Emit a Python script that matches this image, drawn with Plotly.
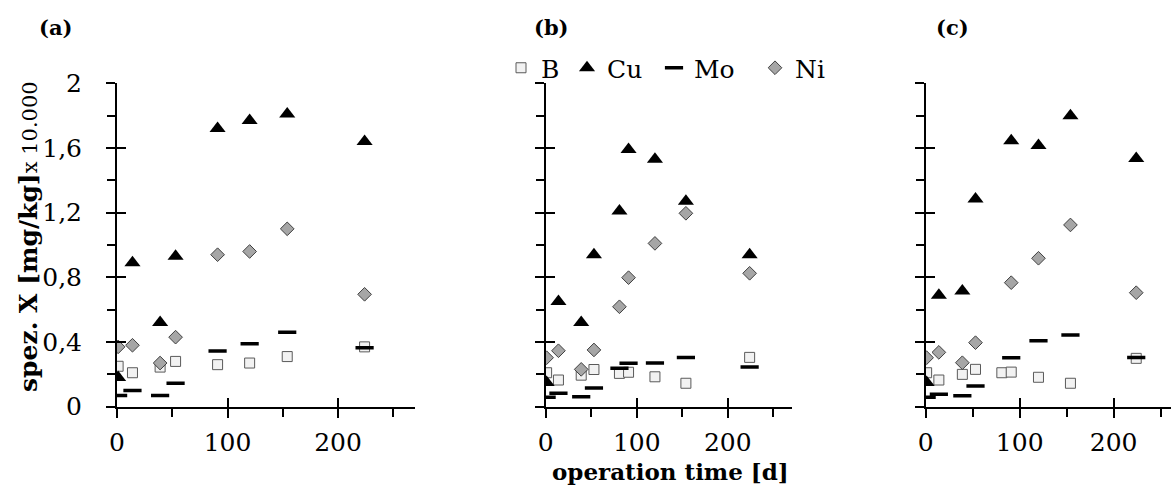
import plotly.graph_objects as go

# ---------------- data ----------------
elements = ["B", "Cu", "Mo", "Ni"]

days_a = [1, 14, 39, 53, 91, 120, 154, 224]
B_a = [0.25, 0.21, 0.245, 0.28, 0.26, 0.27, 0.31, 0.37]
Cu_a = [0.18, 0.89, 0.52, 0.93, 1.72, 1.77, 1.81, 1.64]
Mo_a = [0.07, 0.10, 0.07, 0.145, 0.345, 0.39, 0.46, 0.365]
Ni_a = [0.37, 0.38, 0.27, 0.43, 0.94, 0.96, 1.10, 0.695]

days_b = [1, 14, 39, 53, 81, 91, 120, 154, 224]
B_b = [0.21, 0.165, 0.195, 0.23, 0.206, 0.213, 0.185, 0.145, 0.305]
Cu_b = [0.15, 0.65, 0.52, 0.94, 1.21, 1.59, 1.53, 1.27, 0.94]
Mo_b = [0.058, 0.083, 0.062, 0.115, 0.238, 0.268, 0.27, 0.305, 0.246]
Ni_b = [0.303, 0.346, 0.231, 0.351, 0.618, 0.798, 1.01, 1.196, 0.825]

days_c = [1, 14, 39, 53, 81, 91, 120, 154, 224]
B_c = [0.21, 0.165, 0.20, 0.231, 0.21, 0.214, 0.182, 0.145, 0.299]
Cu_c = [0.15, 0.69, 0.715, 1.285, None, 1.645, 1.615, 1.80, 1.535]
Mo_c = [0.058, 0.077, 0.068, 0.128, None, 0.303, 0.408, 0.443, 0.305]
Ni_c = [0.303, 0.336, 0.272, 0.396, None, 0.767, 0.918, 1.124, 0.705]

panel_labels = ["(a)", "(b)", "(c)"]
y_title_main = "spez. X [mg/kg]"
y_title_suffix = "x 10.000"
x_title = "operation time [d]"

# ---------------- layout helpers ----------------
W, H = 1171, 487
FONT = "DejaVu Serif"


def fx(p):
    return p / W


def fy(p):
    return 1 - p / H


panels = [
    dict(days=days_a, B=B_a, Cu=Cu_a, Mo=Mo_a, Ni=Ni_a),
    dict(days=days_b, B=B_b, Cu=Cu_b, Mo=Mo_b, Ni=Ni_b),
    dict(days=days_c, B=B_c, Cu=Cu_c, Mo=Mo_c, Ni=Ni_c),
]

# pixel geometry of each panel: (x of day 0, px per day, x range max)
geom = [
    (117.0, 1.1053, 270),
    (545.7, 0.9104, 270),
    (925.7, 0.9400, 261),
]
y0_px, y1_px = 406.7, 83.3

styles = {
    "B": dict(symbol="square", size=10, color="#f2f2f2",
              line=dict(color="#5a5a5a", width=1)),
    "Cu": dict(symbol="triangle-up", size=14, color="black",
               line=dict(color="black", width=0)),
    "Mo": dict(symbol="line-ew", size=13, color="black",
               line=dict(color="black", width=3.5)),
    "Ni": dict(symbol="diamond", size=10.5, color="#a6a6a6",
               line=dict(color="#404040", width=1)),
}
legend_ids = {"B": "legend", "Cu": "legend2", "Mo": "legend3", "Ni": "legend4"}
legend_text_x = {"B": 541, "Cu": 607, "Mo": 694, "Ni": 795}

fig = go.Figure()

for i, p in enumerate(panels):
    sfx = "" if i == 0 else str(i + 1)
    for el in elements:
        fig.add_trace(go.Scatter(
            x=p["days"], y=p[el], mode="markers", name=el,
            marker=styles[el],
            xaxis="x" + sfx, yaxis="y" + sfx,
            legend=legend_ids[el], legendgroup=el,
            showlegend=(i == 1),
        ))
    # dummy trace for the overlay axes (inside ticks)
    fig.add_trace(go.Scatter(x=[None], y=[None], xaxis="x" + str(i + 4),
                             yaxis="y" + str(i + 4), showlegend=False,
                             hoverinfo="skip"))

tickfont = dict(family=FONT, size=25, color="black")
layout = dict(
    template="none",
    width=W, height=H,
    margin=dict(l=0, r=0, t=0, b=0, autoexpand=False),
    paper_bgcolor="white", plot_bgcolor="white",
    separators=",.",
    showlegend=True,
    font=dict(family=FONT, color="black"),
)

ydom = [fy(y0_px), fy(y1_px)]
for i, (x0, ppd, xmax) in enumerate(geom):
    sfx = "" if i == 0 else str(i + 1)
    xdom = [fx(x0), min(1.0, fx(x0 + ppd * xmax))]
    layout["xaxis" + sfx] = dict(
        domain=xdom, range=[0, xmax], anchor="y" + sfx, automargin=False,
        showline=True, linecolor="black", linewidth=2,
        showgrid=False, zeroline=False,
        tick0=0, dtick=100, ticks="outside", ticklen=9, tickwidth=2,
        tickcolor="black", tickfont=tickfont, ticklabelstandoff=3,
        minor=dict(dtick=50, tick0=0, ticks="outside", ticklen=8,
                   tickwidth=2, tickcolor="black", showgrid=False),
    )
    layout["yaxis" + sfx] = dict(
        domain=ydom, range=[0, 2], anchor="x" + sfx, automargin=False,
        showline=True, linecolor="black", linewidth=2,
        showgrid=False, zeroline=False,
        tick0=0, dtick=0.4, ticks="outside", ticklen=9, tickwidth=2,
        tickcolor="black", tickfont=tickfont, ticklabelstandoff=19,
        showticklabels=(i == 0),
        minor=dict(dtick=0.2, tick0=0, ticks="outside", ticklen=8,
                   tickwidth=2, tickcolor="black", showgrid=False),
    )
    o = str(i + 4)
    layout["xaxis" + o] = dict(
        overlaying="x" + sfx, anchor="y" + sfx, range=[0, xmax], automargin=False,
        showline=False, showgrid=False, zeroline=False,
        tick0=0, dtick=100, ticks="inside", ticklen=9, tickwidth=2,
        tickcolor="black", showticklabels=False,
    )
    layout["yaxis" + o] = dict(
        overlaying="y" + sfx, anchor="x" + sfx, range=[0, 2], automargin=False,
        showline=False, showgrid=False, zeroline=False,
        tick0=0, dtick=0.4, ticks="inside", ticklen=9, tickwidth=2,
        tickcolor="black", showticklabels=False,
    )

for el in elements:
    layout[legend_ids[el]] = dict(
        x=fx(legend_text_x[el] - 40), y=fy(68), xanchor="left", yanchor="middle",
        orientation="h", bgcolor="rgba(0,0,0,0)", borderwidth=0,
        font=dict(family=FONT, size=25, color="black"),
        itemsizing="trace",
    )

annotations = []
for lab, xc in zip(panel_labels, [55, 551, 952]):
    annotations.append(dict(
        text="<b>" + lab + "</b>", x=fx(xc), y=fy(28), xref="paper", yref="paper",
        showarrow=False, xanchor="center", yanchor="middle",
        font=dict(family=FONT, size=21, color="black")))
annotations.append(dict(
    text="<b>" + y_title_main + "</b><span style='font-size:21px'>" + y_title_suffix + "</span>",
    x=fx(28), y=fy(237), xref="paper", yref="paper", textangle=-90,
    showarrow=False, xanchor="center", yanchor="middle",
    font=dict(family=FONT, size=25, color="black")))
annotations.append(dict(
    text="<b>" + x_title + "</b>", x=fx(670), y=fy(471), xref="paper", yref="paper",
    showarrow=False, xanchor="center", yanchor="middle",
    font=dict(family=FONT, size=23, color="black")))
layout["annotations"] = annotations

fig.update_layout(**layout)
fig.write_html(
    "out.html",
    config={"displayModeBar": False},
    post_script="document.body.style.margin='0';document.body.style.overflow='hidden';",
)
